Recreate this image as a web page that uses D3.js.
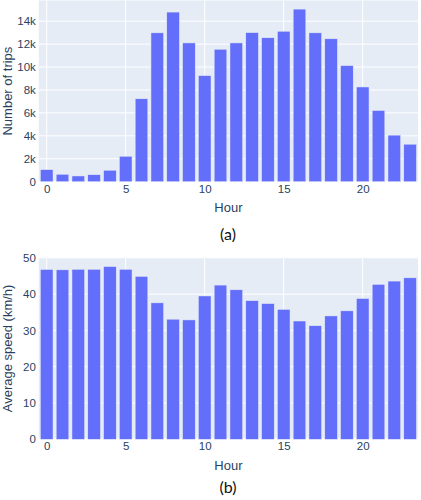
<!DOCTYPE html>
<html><head><meta charset="utf-8">
<script src="https://cdn.jsdelivr.net/npm/d3@7"></script>
<style>body{margin:0;background:#fff}svg{display:block}</style>
</head><body>
<svg id="c" width="421" height="500"></svg>
<script>
const hours = d3.range(0, 24);
const trips = [1050, 650, 500, 610, 1000, 2220, 7230, 12980, 14790, 12100, 9250, 11550, 12100, 13000, 12550, 13120, 15050, 12980, 12460, 10120, 8260, 6210, 4060, 3270];
const speeds = [46.8, 46.7, 46.85, 46.85, 47.6, 46.85, 44.9, 37.6, 33.1, 32.9, 39.5, 42.5, 41.2, 38.2, 37.4, 35.8, 32.6, 31.3, 34.0, 35.4, 38.8, 42.7, 43.6, 44.5];
const tripTicks = [0, 2000, 4000, 6000, 8000, 10000, 12000, 14000];
const speedTicks = [0, 10, 20, 30, 40, 50];
const hourTicks = [0, 5, 10, 15, 20];

const svg = d3.select("#c");
const textColor = "#2a3f5f";
const font = "'Liberation Sans', Arial, sans-serif";

function panel(cfg) {
  const g = svg.append("g");
  const x = d3.scaleLinear().domain([-0.5, 23.5]).range([38.8, 418]);
  const y = d3.scaleLinear().domain(cfg.ydomain).range([cfg.bottom, cfg.top]);
  g.append("rect").attr("x", 38.8).attr("y", cfg.top).attr("width", 418 - 38.8).attr("height", cfg.bottom - cfg.top).attr("fill", "#E5ECF6");
  g.selectAll("line.grid").data(cfg.ticks).join("line")
    .attr("x1", 38.8).attr("x2", 418).attr("y1", d => y(d)).attr("y2", d => y(d))
    .attr("stroke", "#fff").attr("stroke-width", d => d === 0 ? 2 : 1);
  g.selectAll("line.vg").data(hourTicks).join("line")
    .attr("x1", d => x(d)).attr("x2", d => x(d)).attr("y1", cfg.top).attr("y2", cfg.bottom)
    .attr("stroke", "#fff").attr("stroke-width", 1);
  const bw = (x(1) - x(0)) * 0.8;
  g.selectAll("rect.bar").data(cfg.values).join("rect")
    .attr("x", (d, i) => x(hours[i]) - bw / 2).attr("width", bw)
    .attr("y", d => y(d)).attr("height", d => y(0) - y(d))
    .attr("fill", "#636EFA").attr("stroke", "#E5ECF6").attr("stroke-width", 0.5);
  const ya = d3.axisLeft(y).tickValues(cfg.ticks).tickFormat(cfg.fmt).tickSize(0).tickPadding(3);
  const yg = g.append("g").attr("transform", "translate(38.8,0)").call(ya);
  yg.select(".domain").remove();
  yg.selectAll("text").attr("fill", textColor).style("font-family", font).style("font-size", "11.5px");
  const xa = d3.axisBottom(x).tickValues(hourTicks).tickSize(0).tickPadding(3);
  const xgx = g.append("g").attr("transform", `translate(0,${cfg.bottom})`).call(xa);
  xgx.select(".domain").remove();
  xgx.selectAll("text").attr("fill", textColor).style("font-family", font).style("font-size", "11.5px");
  g.append("text").attr("x", x(11.5)).attr("y", cfg.bottom + 30.5).attr("text-anchor", "middle")
    .attr("fill", textColor).style("font-family", font).style("font-size", "13px").text("Hour");
  const cy = (cfg.top + cfg.bottom) / 2;
  g.append("text").attr("transform", `translate(12,${cy}) rotate(-90)`).attr("text-anchor", "middle")
    .attr("fill", textColor).style("font-family", font).style("font-size", "13px").text(cfg.ytitle);
  g.append("text").attr("x", 228).attr("y", cfg.bottom + cfg.labelOff).attr("text-anchor", "middle")
    .attr("fill", "#111").style("font-family", "Lato, sans-serif").style("font-size", "16px").text(cfg.label);
}

panel({values: trips, ydomain: [0, 15800], top: 0.5, bottom: 181.7, ticks: tripTicks,
  fmt: d => d === 0 ? "0" : (d / 1000) + "k", ytitle: "Number of trips", label: "(a)", labelOff: 58});
panel({values: speeds, ydomain: [0, 50.1], top: 257.5, bottom: 439.3, ticks: speedTicks,
  fmt: d => String(d), ytitle: "Average speed (km/h)", label: "(b)", labelOff: 54});
</script>
</body></html>
